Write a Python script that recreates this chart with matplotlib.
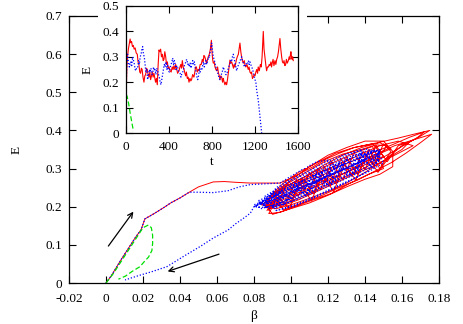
import matplotlib.pyplot as plt
from matplotlib.patches import Rectangle

plt.rcParams['font.family'] = ['Liberation Serif', 'DejaVu Serif']
plt.rcParams['font.size'] = 9.5

# ---- main panel: E vs beta ----
# red trajectory: approach from the origin, then the tangle around the attractor
red_pts = [
    (0.0, 0.0), (0.003, 0.02), (0.008, 0.06), (0.012, 0.09), (0.016, 0.12), (0.019, 0.14),
    (0.021, 0.168), (0.026, 0.182), (0.031, 0.197), (0.035, 0.21), (0.04, 0.223), (0.045, 0.238),
    (0.05, 0.252), (0.055, 0.26), (0.058, 0.265), (0.064, 0.266), (0.07, 0.264), (0.078, 0.262),
    (0.086, 0.262), (0.094, 0.262), (0.1, 0.275), (0.106, 0.29), (0.112, 0.305), (0.119, 0.325),
    (0.126, 0.34), (0.134, 0.355), (0.146, 0.367), (0.158, 0.38), (0.168, 0.392), (0.175, 0.4),
    (0.17, 0.385), (0.16, 0.36), (0.15, 0.32), (0.14, 0.29), (0.13, 0.262), (0.12, 0.24),
    (0.11, 0.222), (0.1, 0.205), (0.092, 0.195), (0.086, 0.198),
    (0.09, 0.232), (0.098, 0.26), (0.108, 0.29), (0.118, 0.318), (0.128, 0.338), (0.138, 0.35),
    (0.146, 0.362), (0.152, 0.36),
    (0.148, 0.335), (0.14, 0.318), (0.13, 0.29), (0.12, 0.272), (0.11, 0.25), (0.1, 0.228),
    (0.092, 0.21), (0.087, 0.202),
    (0.09, 0.18), (0.1, 0.195), (0.11, 0.21), (0.12, 0.23), (0.13, 0.252), (0.14, 0.272),
    (0.148, 0.285), (0.155, 0.305),
    (0.155, 0.345), (0.15, 0.372), (0.14, 0.372), (0.13, 0.355), (0.12, 0.335), (0.11, 0.305),
    (0.1, 0.27), (0.092, 0.24), (0.086, 0.215),
    (0.088, 0.205), (0.096, 0.235), (0.106, 0.262), (0.116, 0.28), (0.126, 0.305), (0.136, 0.325),
    (0.146, 0.345), (0.156, 0.365), (0.164, 0.382), (0.172, 0.396),
    (0.168, 0.38), (0.16, 0.358), (0.15, 0.33), (0.14, 0.302), (0.13, 0.28), (0.12, 0.258),
    (0.11, 0.235), (0.1, 0.215), (0.09, 0.198),
    (0.086, 0.21), (0.094, 0.245), (0.104, 0.27), (0.114, 0.295), (0.124, 0.318), (0.134, 0.34),
    (0.144, 0.358),
    (0.15, 0.3), (0.142, 0.285), (0.132, 0.262), (0.122, 0.235), (0.112, 0.218), (0.102, 0.2),
    (0.094, 0.185), (0.088, 0.182),
    (0.092, 0.218), (0.1, 0.232), (0.108, 0.258), (0.118, 0.27), (0.126, 0.295), (0.136, 0.305),
    (0.146, 0.335), (0.154, 0.352),
    (0.148, 0.368), (0.138, 0.355), (0.128, 0.335), (0.118, 0.31), (0.108, 0.28), (0.098, 0.255),
    (0.09, 0.228),
    (0.094, 0.2), (0.104, 0.218), (0.114, 0.24), (0.124, 0.262), (0.134, 0.285), (0.144, 0.305),
    (0.152, 0.325), (0.16, 0.345), (0.166, 0.36),
    (0.158, 0.372), (0.148, 0.36), (0.138, 0.338), (0.128, 0.315), (0.118, 0.295), (0.108, 0.27),
    (0.098, 0.245), (0.09, 0.225), (0.084, 0.205),
    (0.09, 0.2), (0.1, 0.222), (0.11, 0.245), (0.12, 0.267), (0.13, 0.29), (0.14, 0.31),
    (0.15, 0.332),
    (0.144, 0.365), (0.134, 0.355), (0.124, 0.34), (0.114, 0.315), (0.104, 0.29), (0.096, 0.262),
    (0.09, 0.235),
    (0.096, 0.192), (0.106, 0.21), (0.116, 0.228), (0.126, 0.25), (0.136, 0.27), (0.146, 0.295),
    (0.154, 0.315), (0.162, 0.34), (0.17, 0.368), (0.176, 0.39),
    (0.166, 0.375), (0.156, 0.36), (0.146, 0.338), (0.136, 0.315), (0.126, 0.292), (0.116, 0.272),
    (0.106, 0.25), (0.096, 0.228), (0.088, 0.21),
    (0.088, 0.19), (0.094, 0.245), (0.1, 0.215), (0.106, 0.275), (0.112, 0.235), (0.118, 0.305),
    (0.124, 0.262), (0.13, 0.33), (0.136, 0.285), (0.142, 0.35), (0.148, 0.3), (0.154, 0.345),
    (0.15, 0.365), (0.145, 0.31), (0.139, 0.345), (0.133, 0.28), (0.127, 0.325), (0.121, 0.255),
    (0.115, 0.3), (0.109, 0.23), (0.103, 0.272), (0.097, 0.205), (0.091, 0.24), (0.086, 0.2),
    (0.092, 0.205), (0.098, 0.26), (0.104, 0.228), (0.11, 0.29), (0.116, 0.245), (0.122, 0.318),
    (0.128, 0.27), (0.134, 0.342), (0.14, 0.298), (0.146, 0.36), (0.152, 0.318), (0.158, 0.36),
    (0.164, 0.37),
    (0.16, 0.35), (0.153, 0.33), (0.147, 0.29), (0.141, 0.335), (0.135, 0.27), (0.129, 0.31),
    (0.123, 0.24), (0.117, 0.285), (0.111, 0.215), (0.105, 0.262), (0.099, 0.195), (0.093, 0.225),
    (0.087, 0.19),
    (0.094, 0.24), (0.104, 0.265), (0.114, 0.29), (0.122, 0.3), (0.12, 0.285),
]

blue_pts = [
    (0.0, 0.0), (0.003, 0.02), (0.008, 0.06), (0.012, 0.09), (0.016, 0.12), (0.019, 0.14),
    (0.021, 0.168), (0.026, 0.182), (0.031, 0.197), (0.035, 0.21), (0.04, 0.223), (0.045, 0.238),
    (0.05, 0.238), (0.058, 0.237), (0.066, 0.242), (0.072, 0.252), (0.078, 0.258), (0.086, 0.26),
    (0.094, 0.262), (0.1, 0.28), (0.107, 0.3), (0.114, 0.318), (0.12, 0.322),
    (0.124, 0.3), (0.116, 0.27), (0.108, 0.25), (0.1, 0.232), (0.092, 0.215), (0.085, 0.205),
    (0.09, 0.235), (0.1, 0.26), (0.11, 0.285), (0.12, 0.305), (0.13, 0.328), (0.14, 0.345),
    (0.148, 0.348),
    (0.146, 0.31), (0.138, 0.292), (0.128, 0.27), (0.118, 0.25), (0.108, 0.228), (0.098, 0.21),
    (0.09, 0.198),
    (0.092, 0.22), (0.1, 0.24), (0.11, 0.26), (0.12, 0.282), (0.13, 0.302), (0.14, 0.325),
    (0.148, 0.342),
    (0.14, 0.352), (0.13, 0.334), (0.12, 0.312), (0.11, 0.29), (0.1, 0.268), (0.092, 0.245),
    (0.086, 0.228),
    (0.092, 0.19), (0.102, 0.205), (0.112, 0.225), (0.122, 0.248), (0.132, 0.27), (0.142, 0.292),
    (0.15, 0.315),
    (0.146, 0.35), (0.136, 0.325), (0.126, 0.305), (0.116, 0.28), (0.106, 0.258), (0.096, 0.238),
    (0.088, 0.22), (0.08, 0.205),
    (0.084, 0.195), (0.094, 0.21), (0.104, 0.232), (0.114, 0.255), (0.124, 0.278), (0.134, 0.3),
    (0.144, 0.322),
    (0.138, 0.34), (0.128, 0.318), (0.118, 0.295), (0.108, 0.272), (0.098, 0.25), (0.09, 0.232),
    (0.082, 0.215),
    (0.088, 0.195), (0.098, 0.21), (0.108, 0.232), (0.118, 0.255), (0.128, 0.275), (0.138, 0.298),
    (0.148, 0.32),
    (0.144, 0.33), (0.134, 0.31), (0.124, 0.288), (0.114, 0.265), (0.104, 0.245), (0.094, 0.222),
    (0.086, 0.21),
    (0.092, 0.25), (0.1, 0.272), (0.11, 0.295), (0.118, 0.315), (0.128, 0.335), (0.138, 0.35),
    (0.136, 0.295), (0.126, 0.275), (0.116, 0.252), (0.106, 0.232), (0.096, 0.212), (0.086, 0.198),
    (0.08, 0.2),
    (0.088, 0.222), (0.098, 0.245), (0.108, 0.265), (0.118, 0.29), (0.128, 0.31), (0.138, 0.332),
    (0.148, 0.35),
    (0.142, 0.295), (0.132, 0.268), (0.122, 0.245), (0.112, 0.222), (0.102, 0.202), (0.092, 0.19),
    (0.094, 0.24), (0.104, 0.262), (0.114, 0.285), (0.124, 0.308), (0.134, 0.33), (0.144, 0.345),
    (0.14, 0.322), (0.13, 0.302), (0.12, 0.282), (0.11, 0.26), (0.1, 0.24), (0.09, 0.218),
    (0.084, 0.208),
    (0.086, 0.2), (0.092, 0.235), (0.098, 0.215), (0.104, 0.262), (0.11, 0.24), (0.116, 0.29),
    (0.122, 0.26), (0.128, 0.315), (0.134, 0.285), (0.14, 0.34), (0.146, 0.315),
    (0.148, 0.345), (0.142, 0.31), (0.136, 0.33), (0.13, 0.285), (0.124, 0.31), (0.118, 0.26),
    (0.112, 0.285), (0.106, 0.235), (0.1, 0.258), (0.094, 0.21), (0.088, 0.23), (0.082, 0.205),
    (0.088, 0.21), (0.094, 0.24), (0.1, 0.222), (0.106, 0.27), (0.112, 0.248), (0.118, 0.298),
    (0.124, 0.272), (0.13, 0.322), (0.136, 0.298), (0.142, 0.342), (0.148, 0.33),
    (0.144, 0.3), (0.138, 0.335), (0.132, 0.28), (0.126, 0.315), (0.12, 0.255), (0.114, 0.29),
    (0.108, 0.23), (0.102, 0.262), (0.096, 0.205), (0.09, 0.238), (0.084, 0.21),
    (0.08, 0.2), (0.078, 0.183), (0.075, 0.172), (0.07, 0.155), (0.066, 0.139), (0.058, 0.118),
    (0.051, 0.096), (0.042, 0.07), (0.033, 0.043), (0.025, 0.03), (0.018, 0.02), (0.0103, 0.008),
]

green_beta = [0.0, 0.004, 0.008, 0.012, 0.016, 0.02, 0.0229, 0.0245, 0.0252, 0.0252, 0.0248, 0.023,
              0.0205, 0.0184, 0.014, 0.0105, 0.0067]
green_E = [0.0, 0.025, 0.055, 0.085, 0.115, 0.145, 0.152, 0.145, 0.125, 0.104, 0.085, 0.068,
           0.055, 0.043, 0.03, 0.018, 0.01]

arrows = [((0.0004, 0.091), (0.0157, 0.193)), ((0.0625, 0.078), (0.0319, 0.028))]

# ---- inset: E vs t ----
red_series = [
    (0, 0.0), (4, 0.19), (8, 0.26), (14, 0.3), (22, 0.33), (30, 0.35), (38, 0.37), (45, 0.355),
    (52, 0.36), (60, 0.34), (68, 0.345), (76, 0.33), (85, 0.335), (95, 0.315), (105, 0.31),
    (112, 0.28), (120, 0.27), (128, 0.24), (136, 0.235), (143, 0.255), (150, 0.25), (158, 0.22),
    (167, 0.2), (175, 0.225), (183, 0.23), (190, 0.255), (198, 0.25), (206, 0.23), (214, 0.22),
    (222, 0.24), (229, 0.21), (237, 0.225), (245, 0.24), (252, 0.22), (260, 0.235), (268, 0.215),
    (275, 0.2), (283, 0.215), (291, 0.19), (298, 0.26), (307, 0.327), (314, 0.32), (322, 0.33),
    (330, 0.3), (338, 0.31), (346, 0.285), (353, 0.29), (361, 0.32), (369, 0.3), (377, 0.27),
    (385, 0.28), (392, 0.255), (400, 0.26), (410, 0.245), (420, 0.24), (430, 0.26), (438, 0.25),
    (446, 0.265), (455, 0.25), (462, 0.27), (470, 0.255), (480, 0.235), (493, 0.245), (502, 0.26),
    (510, 0.27), (517, 0.255), (524, 0.285), (532, 0.26), (540, 0.25), (548, 0.235), (555, 0.225),
    (562, 0.24), (570, 0.215), (578, 0.22), (586, 0.2), (595, 0.215), (603, 0.205), (610, 0.21),
    (620, 0.23), (632, 0.22), (640, 0.24), (648, 0.26), (655, 0.26), (663, 0.24), (671, 0.25),
    (679, 0.245), (690, 0.27), (700, 0.27), (710, 0.29), (718, 0.28), (725, 0.305), (733, 0.3),
    (740, 0.29), (748, 0.275), (756, 0.285), (765, 0.3), (775, 0.31), (785, 0.33), (794, 0.365),
    (800, 0.32), (806, 0.29), (812, 0.275), (820, 0.28), (828, 0.26), (836, 0.25), (843, 0.245),
    (852, 0.26), (860, 0.235), (865, 0.23), (875, 0.21), (882, 0.225), (890, 0.22), (898, 0.2),
    (905, 0.215), (910, 0.205), (920, 0.19), (928, 0.2), (936, 0.19), (944, 0.21), (950, 0.23),
    (958, 0.26), (967, 0.287), (975, 0.275), (983, 0.28), (990, 0.27), (1000, 0.255), (1006, 0.27),
    (1013, 0.26), (1020, 0.275), (1028, 0.29), (1035, 0.3), (1045, 0.31), (1052, 0.33),
    (1060, 0.354), (1068, 0.32), (1075, 0.3), (1083, 0.285), (1091, 0.275), (1100, 0.285),
    (1108, 0.265), (1115, 0.26), (1125, 0.27), (1137, 0.25), (1145, 0.26), (1153, 0.24),
    (1160, 0.235), (1168, 0.24), (1176, 0.215), (1184, 0.22), (1192, 0.23), (1200, 0.225),
    (1208, 0.24), (1216, 0.25), (1224, 0.235), (1230, 0.26), (1240, 0.245), (1250, 0.27),
    (1258, 0.26), (1266, 0.3), (1272, 0.36), (1277, 0.4), (1284, 0.33), (1292, 0.3), (1300, 0.27),
    (1308, 0.245), (1316, 0.26), (1325, 0.26), (1332, 0.27), (1339, 0.265), (1348, 0.28),
    (1354, 0.26), (1360, 0.275), (1368, 0.29), (1376, 0.265), (1386, 0.285), (1394, 0.27),
    (1402, 0.29), (1410, 0.3), (1418, 0.32), (1426, 0.35), (1432, 0.372), (1440, 0.33),
    (1448, 0.3), (1455, 0.28), (1463, 0.275), (1470, 0.285), (1478, 0.265), (1485, 0.27),
    (1492, 0.29), (1500, 0.275), (1510, 0.285), (1518, 0.3), (1525, 0.29), (1530, 0.31),
    (1534, 0.32), (1540, 0.3), (1545, 0.29), (1550, 0.3), (1556, 0.285),
]

blue_series = [
    (0, 0.0), (4, 0.22), (10, 0.29), (15, 0.31), (22, 0.28), (31, 0.26), (38, 0.275), (45, 0.28),
    (52, 0.26), (62, 0.3), (70, 0.285), (78, 0.27), (85, 0.25), (93, 0.245), (100, 0.26),
    (110, 0.26), (117, 0.285), (124, 0.27), (132, 0.3), (140, 0.31), (148, 0.33), (155, 0.34),
    (162, 0.31), (170, 0.3), (177, 0.27), (185, 0.24), (193, 0.25), (201, 0.21), (210, 0.23),
    (217, 0.25), (225, 0.24), (232, 0.255), (240, 0.23), (248, 0.235), (256, 0.26), (263, 0.245),
    (270, 0.25), (278, 0.23), (286, 0.255), (294, 0.245), (302, 0.23), (310, 0.22), (318, 0.2),
    (325, 0.19), (333, 0.21), (340, 0.23), (348, 0.25), (356, 0.27), (364, 0.26), (372, 0.28),
    (380, 0.25), (388, 0.265), (396, 0.245), (403, 0.24), (412, 0.26), (420, 0.27), (427, 0.28),
    (434, 0.295), (442, 0.27), (450, 0.285), (458, 0.27), (466, 0.25), (473, 0.265), (480, 0.26),
    (488, 0.245), (495, 0.24), (503, 0.235), (511, 0.22), (520, 0.235), (528, 0.24), (535, 0.25),
    (543, 0.265), (550, 0.27), (558, 0.285), (566, 0.29), (575, 0.27), (582, 0.275), (589, 0.26),
    (597, 0.275), (605, 0.255), (612, 0.27), (620, 0.285), (628, 0.27), (636, 0.28), (644, 0.255),
    (652, 0.24), (660, 0.22), (667, 0.21), (675, 0.225), (683, 0.25), (690, 0.24), (698, 0.255),
    (706, 0.25), (713, 0.265), (720, 0.28), (728, 0.26), (735, 0.27), (743, 0.285), (752, 0.27),
    (760, 0.285), (768, 0.3), (775, 0.295), (780, 0.31), (788, 0.33), (797, 0.354), (804, 0.33),
    (812, 0.3), (820, 0.29), (828, 0.275), (836, 0.26), (843, 0.25), (850, 0.24), (858, 0.23),
    (866, 0.215), (874, 0.21), (882, 0.22), (890, 0.235), (898, 0.245), (905, 0.26), (912, 0.25),
    (920, 0.245), (928, 0.23), (936, 0.23), (945, 0.245), (955, 0.26), (965, 0.27), (974, 0.285),
    (982, 0.28), (990, 0.3), (998, 0.31), (1005, 0.295), (1013, 0.28), (1021, 0.26), (1029, 0.245),
    (1036, 0.255), (1043, 0.265), (1050, 0.27), (1060, 0.285), (1068, 0.29), (1076, 0.3),
    (1083, 0.285), (1090, 0.28), (1098, 0.265), (1107, 0.26), (1115, 0.275), (1122, 0.27),
    (1130, 0.27), (1138, 0.285), (1146, 0.27), (1153, 0.28), (1160, 0.27), (1170, 0.26),
    (1178, 0.25), (1184, 0.24), (1192, 0.225), (1200, 0.21), (1208, 0.2), (1215, 0.17),
    (1222, 0.15), (1230, 0.13), (1238, 0.1), (1245, 0.07), (1254, 0.035), (1262, 0.0),
]

green_t = [0, 3, 10, 25, 40, 55, 68]
green_Et = [0.0, 0.15, 0.145, 0.115, 0.075, 0.04, 0.01]

RED = '#ff0000'
BLUE = '#0000ff'
GREEN = '#00e000'
DOT = (0, (1, 1.5))
DASH = (0, (4, 2))


def style(ax, pad):
    ax.tick_params(direction='in', length=5, width=0.8, top=True, right=True, pad=pad)
    for s in ax.spines.values():
        s.set_linewidth(0.9)


fig = plt.figure(figsize=(4.63, 3.24), dpi=100)
ax = fig.add_axes([69 / 463, 41 / 324, 370 / 463, 267 / 324])
ax.set_zorder(1)
rb, re_ = zip(*red_pts)
bb, be = zip(*blue_pts)
ax.plot(rb, re_, color=RED, lw=0.7)
ax.plot(bb, be, color=BLUE, lw=0.9, ls=DOT)
ax.plot(green_beta, green_E, color=GREEN, lw=0.9, ls=DASH)
for start, end in arrows:
    ax.annotate('', xy=end, xytext=start,
                arrowprops=dict(arrowstyle='->', color='k', lw=0.9, mutation_scale=9))
ax.set_xlim(-0.02, 0.18)
ax.set_ylim(0, 0.7)
ax.set_xticks([-0.02, 0, 0.02, 0.04, 0.06, 0.08, 0.1, 0.12, 0.14, 0.16, 0.18])
ax.set_xticklabels(['-0.02', '0', '0.02', '0.04', '0.06', '0.08', '0.1', '0.12', '0.14', '0.16', '0.18'])
ax.set_yticks([0, 0.1, 0.2, 0.3, 0.4, 0.5, 0.6, 0.7])
ax.set_yticklabels(['0', '0.1', '0.2', '0.3', '0.4', '0.5', '0.6', '0.7'])
ax.set_xlabel('β', labelpad=4)
ax.set_ylabel('E', labelpad=16)
style(ax, 7)
ax.tick_params(axis='y', pad=5)

# blank area behind the inset (covers part of the main frame)
fig.patches.append(Rectangle((98 / 463, 156 / 324), 209 / 463, 168 / 324,
                             transform=fig.transFigure, facecolor='white',
                             edgecolor='none', zorder=2))

ins = fig.add_axes([126 / 463, 191 / 324, 172 / 463, 127 / 324])
ins.set_zorder(3)
rt, rE = zip(*red_series)
bt, bE = zip(*blue_series)
ins.plot(rt, rE, color=RED, lw=0.8)
ins.plot(bt, bE, color=BLUE, lw=0.9, ls=DOT)
ins.plot(green_t, green_Et, color=GREEN, lw=0.9, ls=DASH)
ins.set_xlim(0, 1600)
ins.set_ylim(0, 0.5)
ins.set_xticks([0, 400, 800, 1200, 1600])
ins.set_yticks([0, 0.1, 0.2, 0.3, 0.4, 0.5])
ins.set_yticklabels(['0', '0.1', '0.2', '0.3', '0.4', '0.5'])
ins.set_xlabel('t', labelpad=2)
ins.set_ylabel('E', labelpad=6)
style(ins, 6)
ins.tick_params(axis='y', pad=5)

fig.savefig('out.png', dpi=100)
